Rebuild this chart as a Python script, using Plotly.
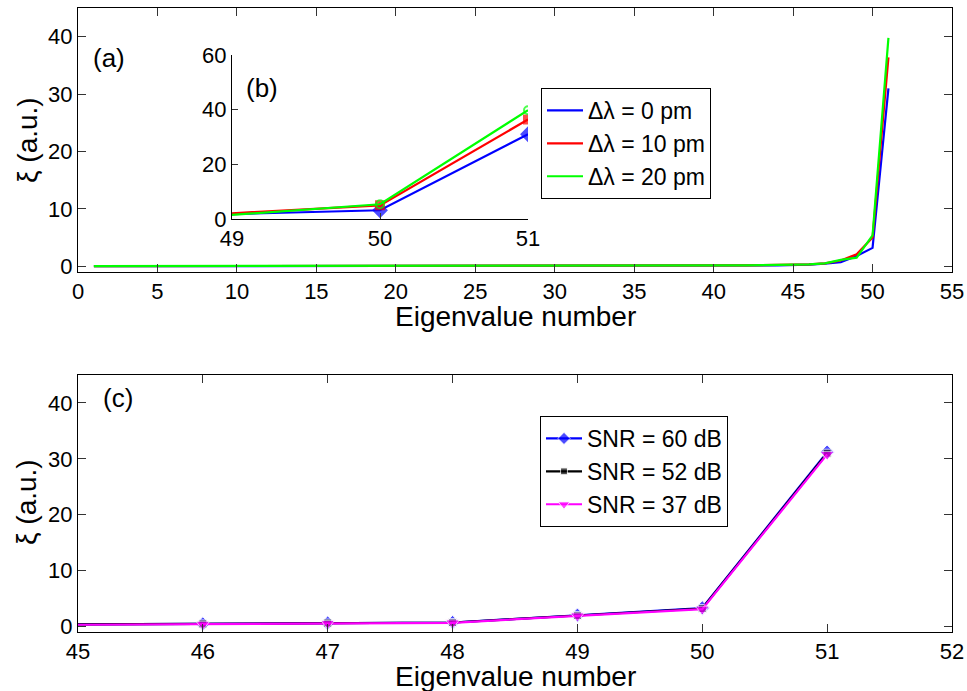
import plotly.graph_objects as go

# ---------------- data ----------------
eig_num = list(range(1, 52))
xi_0pm = [0.01, 0.01, 0.01, 0.01, 0.01, 0.02, 0.02, 0.02, 0.02, 0.02,
          0.02, 0.03, 0.03, 0.03, 0.03, 0.03, 0.04, 0.04, 0.04, 0.04,
          0.04, 0.05, 0.05, 0.05, 0.05, 0.05, 0.06, 0.06, 0.06, 0.06,
          0.07, 0.07, 0.07, 0.08, 0.08, 0.08, 0.09, 0.09, 0.10, 0.10,
          0.11, 0.12, 0.13, 0.15, 0.20, 0.30, 0.45, 0.70, 1.8, 3.2, 31.0]
xi_10pm = [0.01, 0.01, 0.01, 0.01, 0.02, 0.02, 0.02, 0.02, 0.02, 0.03,
           0.03, 0.03, 0.03, 0.03, 0.04, 0.04, 0.04, 0.04, 0.05, 0.05,
           0.05, 0.05, 0.06, 0.06, 0.06, 0.06, 0.07, 0.07, 0.07, 0.08,
           0.08, 0.08, 0.09, 0.09, 0.10, 0.10, 0.11, 0.11, 0.12, 0.13,
           0.14, 0.15, 0.16, 0.18, 0.22, 0.32, 0.50, 1.00, 2.1, 5.0, 36.4]
xi_20pm = [0.02, 0.02, 0.02, 0.02, 0.02, 0.03, 0.03, 0.03, 0.03, 0.03,
           0.04, 0.04, 0.04, 0.04, 0.05, 0.05, 0.05, 0.05, 0.06, 0.06,
           0.06, 0.06, 0.07, 0.07, 0.07, 0.08, 0.08, 0.08, 0.09, 0.09,
           0.09, 0.10, 0.10, 0.11, 0.11, 0.12, 0.12, 0.13, 0.13, 0.14,
           0.15, 0.16, 0.18, 0.20, 0.24, 0.33, 0.50, 1.10, 1.5, 5.4, 39.8]

eig_zoom = [45, 46, 47, 48, 49, 50, 51]
xi_snr60 = [0.35, 0.45, 0.60, 0.70, 2.0, 3.3, 31.2]
xi_snr52 = [0.35, 0.45, 0.60, 0.70, 1.95, 3.2, 31.0]
xi_snr37 = [0.30, 0.40, 0.55, 0.65, 1.9, 3.1, 30.8]

top_labels = ["Δλ = 0 pm", "Δλ = 10 pm", "Δλ = 20 pm"]
bot_labels = ["SNR = 60 dB", "SNR = 52 dB", "SNR = 37 dB"]
inset_start = 48  # index of eigenvalue 49

FONT = "Liberation Sans, Arial, Helvetica, sans-serif"
W, H = 967, 691

fig = go.Figure()

# ---------- top panel (a) ----------
top_series = [xi_0pm, xi_10pm, xi_20pm]
top_colors = ["#0000FF", "#FF0000", "#00FF00"]
for ys, c, lab in zip(top_series, top_colors, top_labels):
    fig.add_trace(go.Scatter(x=eig_num, y=ys, mode="lines", name=lab,
                             line=dict(color=c, width=2.2),
                             xaxis="x", yaxis="y", legend="legend"))

# ---------- inset (b) ----------
inset_symbols = ["diamond", "square", "circle-open"]
inset_sizes = [[0, 10, 10], [0, 8, 8], [0, 8, 8]]
for ys, c, sym, sz in zip(top_series, top_colors, inset_symbols, inset_sizes):
    fig.add_trace(go.Scatter(x=eig_num[inset_start:], y=ys[inset_start:],
                             mode="lines+markers", showlegend=False,
                             line=dict(color=c, width=2.2),
                             marker=dict(symbol=sym, color=c, size=sz,
                                         line=dict(color=c, width=2)),
                             xaxis="x3", yaxis="y3"))

# ---------- bottom panel (c) ----------
bot_series = [xi_snr60, xi_snr52, xi_snr37]
bot_colors = ["#0000FF", "#000000", "#FF00FF"]
bot_symbols = ["diamond", "square", "triangle-down"]
bot_sizes = [[0, 11, 11, 11, 11, 11, 11], [0, 8, 8, 8, 8, 8, 8], [0, 12, 12, 12, 12, 12, 12]]
for ys, c, sym, sz, lab in zip(bot_series, bot_colors, bot_symbols, bot_sizes, bot_labels):
    fig.add_trace(go.Scatter(x=eig_zoom, y=ys, mode="lines+markers", name=lab,
                             line=dict(color=c, width=2.2),
                             marker=dict(symbol=sym, color=c, size=sz),
                             xaxis="x2", yaxis="y2", legend="legend2"))

def px_x(p):
    return p / W

def px_y(p):
    return 1 - p / H

tickfont = dict(family=FONT, size=22, color="black")
box_axis = dict(showline=True, linecolor="black", linewidth=1, mirror="ticks",
                ticks="inside", ticklen=8, tickcolor="#333333", tickwidth=1,
                showgrid=False, zeroline=False, tickfont=tickfont, automargin=False)
inset_axis = dict(showline=True, linecolor="black", linewidth=1, mirror=False,
                  ticks="inside", ticklen=6, tickcolor="#333333", tickwidth=1,
                  showgrid=False, zeroline=False, tickfont=tickfont, automargin=False)

fig.update_layout(
    width=W, height=H,
    margin=dict(l=0, r=0, t=0, b=0, pad=0, autoexpand=False),
    paper_bgcolor="white", plot_bgcolor="white",
    font=dict(family=FONT, color="black"),
    xaxis=dict(domain=[px_x(78), px_x(952)], range=[0, 55], dtick=5, tick0=0,
               anchor="y", **box_axis),
    yaxis=dict(domain=[px_y(272), px_y(8)], range=[-1, 45], tickvals=[0, 10, 20, 30, 40],
               anchor="x", **box_axis),
    xaxis2=dict(domain=[px_x(78), px_x(952)], range=[45, 52], dtick=1, tick0=45,
                anchor="y2", **box_axis),
    yaxis2=dict(domain=[px_y(632), px_y(375)], range=[-1, 45], tickvals=[0, 10, 20, 30, 40],
                anchor="x2", **box_axis),
    xaxis3=dict(domain=[px_x(232), px_x(528)], range=[49, 51], dtick=1, tick0=49,
                anchor="y3", **inset_axis),
    yaxis3=dict(domain=[px_y(219), px_y(55)], range=[0, 60], dtick=20, tick0=0,
                anchor="x3", **inset_axis),
    legend=dict(x=px_x(541), y=px_y(88), xanchor="left", yanchor="top",
                bgcolor="white", bordercolor="black", borderwidth=1, itemwidth=36,
                font=dict(family=FONT, size=23, color="black")),
    legend2=dict(x=px_x(540), y=px_y(416), xanchor="left", yanchor="top",
                 bgcolor="white", bordercolor="black", borderwidth=1, itemwidth=36,
                 font=dict(family=FONT, size=23, color="black")),
    showlegend=True,
)

def ann(text, x, y, size, angle=0):
    fig.add_annotation(text=text, x=px_x(x), y=px_y(y), xref="paper", yref="paper",
                       xanchor="center", yanchor="middle", showarrow=False,
                       textangle=angle, font=dict(family=FONT, size=size, color="black"))

ann("(a)", 109, 58, 26)
ann("(b)", 262, 88, 26)
ann("(c)", 118, 398, 26)
ann("ξ (a.u.)", 27, 140, 28, -90)
ann("ξ (a.u.)", 27, 502, 28, -90)
ann("Eigenvalue number", 515, 316, 28)
ann("Eigenvalue number", 515, 676, 28)

fig.write_html("out.html", config={"displayModeBar": False},
               post_script="document.body.style.margin='0';document.body.style.overflow='hidden';")
